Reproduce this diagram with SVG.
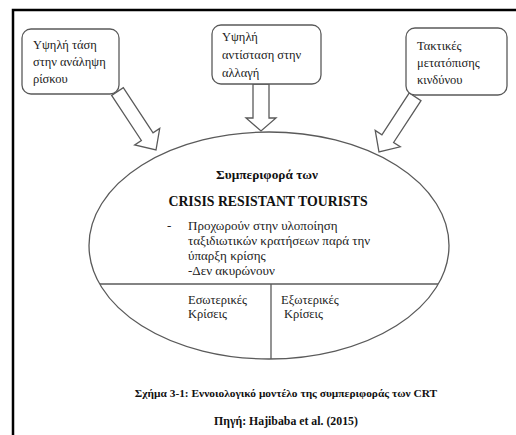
<svg xmlns="http://www.w3.org/2000/svg" width="516" height="435" viewBox="0 0 516 435">
<style>
.box{fill:#fff;stroke:#5a5a5a;stroke-width:1.3}
.arr{fill:#fff;stroke:#5a5a5a;stroke-width:1.3;stroke-linejoin:miter}
.t{font-family:"Liberation Serif","Times New Roman",serif;font-size:12.5px;fill:#222}
.m{font-size:13px}
.b{font-family:"Liberation Serif","Times New Roman",serif;font-weight:bold;fill:#111}
.ln{stroke:#5a5a5a;stroke-width:1.3;fill:none}
</style>
<rect width="516" height="435" fill="#fff"/>
<path d="M13,435 V10 H516" fill="none" stroke="#000" stroke-width="2.5"/>
<g id="connectors">
<polygon class="arr" transform="translate(156,150) rotate(-33.4)" points="-7,-70 -7,-16 -15,-16 0,0 15,-16 7,-16 7,-70"/>
<polygon class="arr" points="253,84 253,118 246,118 261,131 276,118 269,118 269,84"/>
<polygon class="arr" transform="translate(379,152) rotate(33.2)" points="-7,-66 -7,-16 -15,-16 0,0 15,-16 7,-16 7,-66"/>
</g>
<g id="box1">
<rect class="box" x="22" y="29" width="97" height="65" rx="9"/>
<text class="t" x="33" y="49">Υψηλή τάση</text>
<text class="t" x="33" y="66">στην ανάληψη</text>
<text class="t" x="33" y="83">ρίσκου</text>
</g>
<g id="box2">
<rect class="box" x="212" y="25" width="109" height="59" rx="9"/>
<text class="t" x="222" y="41">Υψηλή</text>
<text class="t" x="222" y="59">αντίσταση στην</text>
<text class="t" x="222" y="77">αλλαγή</text>
</g>
<g id="box3">
<rect class="box" x="406" y="28" width="101" height="67" rx="9"/>
<text class="t" x="417" y="50">Τακτικές</text>
<text class="t" x="417" y="67">μετατόπισης</text>
<text class="t" x="417" y="84">κινδύνου</text>
</g>
<g id="ellipse">
<ellipse class="ln" cx="269" cy="245.5" rx="180" ry="113.5"/>
<line class="ln" x1="100" y1="284" x2="438" y2="284"/>
<line class="ln" x1="271" y1="284" x2="271" y2="359"/>
<text class="b" x="267" y="179" font-size="13.3" text-anchor="middle">Συμπεριφορά των</text>
<text class="b" x="268" y="206" font-size="13.8" text-anchor="middle">CRISIS RESISTANT TOURISTS</text>
<text class="t m" x="167" y="230">-</text>
<text class="t m" x="188" y="230">Προχωρούν στην υλοποίηση</text>
<text class="t m" x="188" y="245">ταξιδιωτικών κρατήσεων παρά την</text>
<text class="t m" x="188" y="260">ύπαρξη κρίσης</text>
<text class="t m" x="188" y="275">-Δεν ακυρώνουν</text>
</g>
<g id="internal">
<text class="t" x="188" y="304">Εσωτερικές</text>
<text class="t" x="188" y="318">Κρίσεις</text>
</g>
<g id="external">
<text class="t" x="281" y="304">Εξωτερικές</text>
<text class="t" x="284" y="318">Κρίσεις</text>
</g>
<g id="caption">
<text class="b" x="286" y="397" font-size="11.4" text-anchor="middle">Σχήμα 3-1: Εννοιολογικό μοντέλο της συμπεριφοράς των CRT</text>
<text class="b" x="286" y="425" font-size="11.8" text-anchor="middle">Πηγή: Hajibaba et al. (2015)</text>
</g>
</svg>
